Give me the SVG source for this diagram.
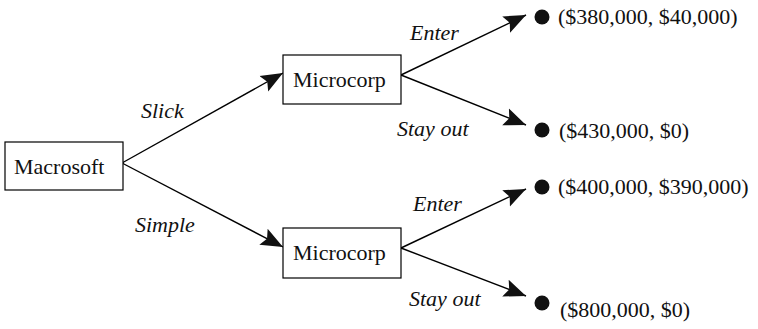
<svg xmlns="http://www.w3.org/2000/svg" width="758" height="329" viewBox="0 0 758 329">
<style>
.box{fill:#fff;stroke:#000;stroke-width:1.2}
.t{font-family:"Liberation Serif","Times New Roman",serif;font-size:22px;fill:#111}
.i{font-style:italic}
.e{stroke:#000;stroke-width:1.4;fill:none;marker-end:url(#ah)}
.dot{fill:#111}
</style>
<defs>
<marker id="ah" markerUnits="userSpaceOnUse" markerWidth="24" markerHeight="20" refX="22" refY="10" orient="auto">
<path d="M0,1 L22,10 L0,19 L4,10 z" fill="#111"/>
</marker>
</defs>
<g id="connectors">
<line class="e" x1="122" y1="163" x2="283" y2="73"/>
<line class="e" x1="122" y1="163" x2="283" y2="247"/>
<line class="e" x1="401" y1="75" x2="526" y2="15"/>
<line class="e" x1="401" y1="75" x2="526" y2="125"/>
<line class="e" x1="401" y1="248" x2="526" y2="189"/>
<line class="e" x1="401" y1="248" x2="526" y2="296"/>
<text class="t i" x="141" y="118">Slick</text>
<text class="t i" x="135" y="232">Simple</text>
<text class="t i" x="410" y="40">Enter</text>
<text class="t i" x="397" y="136">Stay out</text>
<text class="t i" x="413" y="211">Enter</text>
<text class="t i" x="409" y="306">Stay out</text>
</g>
<g id="macrosoft">
<rect class="box" x="5" y="142" width="118" height="48"/>
<text class="t" x="14" y="174">Macrosoft</text>
</g>
<g id="microcorp-top">
<rect class="box" x="283" y="55" width="118" height="49"/>
<text class="t" x="293" y="87">Microcorp</text>
</g>
<g id="microcorp-bottom">
<rect class="box" x="283" y="228" width="118" height="50"/>
<text class="t" x="293" y="260">Microcorp</text>
</g>
<g id="outcome1">
<circle class="dot" cx="542" cy="17" r="7.5"/>
<text class="t" x="558" y="24">($380,000, $40,000)</text>
</g>
<g id="outcome2">
<circle class="dot" cx="542" cy="130" r="7.5"/>
<text class="t" x="559" y="138">($430,000, $0)</text>
</g>
<g id="outcome3">
<circle class="dot" cx="542" cy="187" r="7.5"/>
<text class="t" x="558" y="194">($400,000, $390,000)</text>
</g>
<g id="outcome4">
<circle class="dot" cx="542" cy="303" r="7.5"/>
<text class="t" x="560" y="317">($800,000, $0)</text>
</g>
</svg>
